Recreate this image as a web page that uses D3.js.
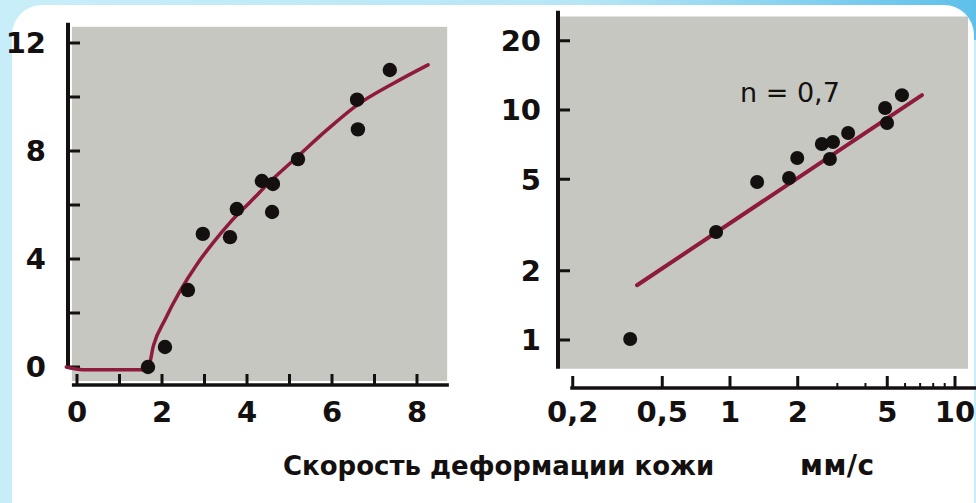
<!DOCTYPE html>
<html><head><meta charset="utf-8">
<script src="https://cdn.jsdelivr.net/npm/d3@7/dist/d3.min.js"></script>
<style>html,body{margin:0;padding:0;background:#c6edf8;overflow:hidden}</style>
</head><body>
<svg id="c" width="976" height="503"></svg>
<script>
// ---- Left panel (linear) data ----
const leftXTicks = [0,1,2,3,4,5,6,7,8];
const leftXLabels = [0,2,4,6,8];
const leftYTicks = [0,2,4,6,8,10,12];
const leftYLabels = [0,4,8,12];
const leftPtsX = [1.67,2.07,2.61,2.96,3.60,3.76,4.35,4.61,4.59,5.20,6.59,6.61,7.36];
const leftPtsY = [0.0,0.74,2.85,4.93,4.81,5.85,6.89,6.78,5.74,7.70,9.90,8.80,11.0];
const leftCurveX = [-0.25,0.14,1.62,1.67,1.80,2.07,2.42,2.82,3.20,3.60,4.07,4.60,5.18,5.88,6.59,7.44,8.26];
const leftCurveY = [0.0,-0.1,-0.1,-0.07,0.8,1.75,2.8,3.8,4.6,5.35,6.1,6.95,7.78,8.78,9.7,10.5,11.19];

// ---- Right panel (log-log) data ----
const rightXTicks = [0.2,0.5,1,2,5,10];
const rightXLabels = ["0,2","0,5","1","2","5","10"];
const rightXMinor = [3,4,6,7,8,9];
const rightYTicks = [1,2,5,10,20];
const rightYLabels = ["1","2","5","10","20"];
const rightPtsX = [0.36,0.867,1.32,1.83,1.99,2.56,2.87,2.78,3.35,4.89,4.99,5.81];
const rightPtsY = [1.01,2.95,4.86,5.06,6.18,7.11,7.26,6.12,7.94,10.2,8.78,11.6];
const rightLineX = [0.386,7.13];
const rightLineY = [1.73,11.6];
const annotation = "n = 0,7";
const axisTitle = "Скорость деформации кожи";
const axisUnit = "мм/с";

const svg = d3.select("#c");
const FONT = "'DejaVu Sans', 'Liberation Sans', Arial, sans-serif";
const INK = "#141010";
const RED = "#8e1a3c";
const GRAY = "#c6c7c1";

// background / white panel
const defs = svg.append("defs");
const g1 = defs.append("linearGradient").attr("id","bg").attr("x1","0").attr("x2","1").attr("y1","0").attr("y2","0");
g1.append("stop").attr("offset","0").attr("stop-color","#c8eef9");
g1.append("stop").attr("offset","0.6").attr("stop-color","#b6e6f6");
g1.append("stop").attr("offset","1").attr("stop-color","#5ec0ea");
svg.append("rect").attr("x",0).attr("y",0).attr("width",976).attr("height",503).attr("fill","#c6edf8");
svg.append("rect").attr("x",0).attr("y",0).attr("width",976).attr("height",40).attr("fill","url(#bg)");
svg.append("rect").attr("x",12).attr("y",5).attr("width",962).attr("height",530).attr("rx",30).attr("fill","#ffffff");

// ---- LEFT ----
const xL = d3.scaleLinear().domain([0,8]).range([77,417]);
const yL = d3.scaleLinear().domain([0,12]).range([367,43]);
const L = svg.append("g");
L.append("rect").attr("x",xL(-0.12)).attr("y",yL(12.6)).attr("width",xL(8.71)-xL(-0.12)).attr("height",yL(-0.52)-yL(12.6)).attr("fill",GRAY);
// y axis
L.append("line").attr("x1",68).attr("x2",68).attr("y1",yL(12.75)).attr("y2",yL(-0.05)).attr("stroke",INK).attr("stroke-width",4);
L.selectAll(".yt").data(leftYTicks).join("line").attr("x1",68).attr("x2",80).attr("y1",d=>yL(d)).attr("y2",d=>yL(d)).attr("stroke",INK).attr("stroke-width",3);
L.selectAll(".yl").data(leftYLabels).join("text").attr("x",46).attr("y",d=>yL(d)).attr("dy","0.36em").attr("text-anchor","end")
  .attr("font-family",FONT).attr("font-weight","bold").attr("font-size",29).attr("fill",INK).text(d=>d);
// x axis
const axYL = 385;
L.append("line").attr("x1",xL(-0.12)).attr("x2",xL(8.75)).attr("y1",axYL).attr("y2",axYL).attr("stroke",INK).attr("stroke-width",3.5);
L.selectAll(".xt").data(leftXTicks).join("line").attr("x1",d=>xL(d)).attr("x2",d=>xL(d)).attr("y1",axYL).attr("y2",axYL-11).attr("stroke",INK).attr("stroke-width",3);
L.selectAll(".xl").data(leftXLabels).join("text").attr("x",d=>xL(d)).attr("y",412).attr("dy","0.36em").attr("text-anchor","middle")
  .attr("font-family",FONT).attr("font-weight","bold").attr("font-size",29).attr("fill",INK).text(d=>d);
// curve
const leftCurve = leftCurveX.map((x,i)=>[x,leftCurveY[i]]);
L.append("path").datum(leftCurve).attr("fill","none").attr("stroke",RED).attr("stroke-width",3.5).attr("stroke-linecap","round")
  .attr("d", d3.line().x(d=>xL(d[0])).y(d=>yL(d[1])).curve(d3.curveMonotoneX));
L.selectAll(".pt").data(leftPtsX.map((x,i)=>[x,leftPtsY[i]])).join("circle")
  .attr("cx",d=>xL(d[0])).attr("cy",d=>yL(d[1])).attr("r",7.2).attr("fill",INK);

// ---- RIGHT ----
const xR = d3.scaleLog().domain([1,10]).range([730,955]);
const yR = d3.scaleLog().domain([1,10]).range([340,110]);
const R = svg.append("g");
R.append("rect").attr("x",560).attr("y",yR(25.5)).attr("width",968-560).attr("height",yR(0.75)-yR(25.5)).attr("fill",GRAY);
R.append("line").attr("x1",558).attr("x2",558).attr("y1",yR(27)).attr("y2",yR(0.75)).attr("stroke",INK).attr("stroke-width",4);
R.selectAll(".yt").data(rightYTicks).join("line").attr("x1",558).attr("x2",570).attr("y1",d=>yR(d)).attr("y2",d=>yR(d)).attr("stroke",INK).attr("stroke-width",3);
R.selectAll(".yl").data(rightYTicks).join("text").attr("x",541).attr("y",d=>yR(d)).attr("dy","0.36em").attr("text-anchor","end")
  .attr("font-family",FONT).attr("font-weight","bold").attr("font-size",29).attr("fill",INK).text((d,i)=>rightYLabels[i]);
const axYR = 388;
R.append("line").attr("x1",xR(0.195)).attr("x2",976).attr("y1",axYR).attr("y2",axYR).attr("stroke",INK).attr("stroke-width",3.5);
R.selectAll(".xt").data(rightXTicks).join("line").attr("x1",d=>xR(d)).attr("x2",d=>xR(d)).attr("y1",axYR).attr("y2",axYR-12).attr("stroke",INK).attr("stroke-width",3);
R.selectAll(".xm").data(rightXMinor).join("line").attr("x1",d=>xR(d)).attr("x2",d=>xR(d)).attr("y1",axYR).attr("y2",axYR-5).attr("stroke",INK).attr("stroke-width",2);
R.selectAll(".xl").data(rightXTicks).join("text").attr("x",d=>xR(d)).attr("y",412).attr("dy","0.36em").attr("text-anchor","middle")
  .attr("font-family",FONT).attr("font-weight","bold").attr("font-size",29).attr("fill",INK).text((d,i)=>rightXLabels[i]);
R.append("path").datum(rightLineX.map((x,i)=>[x,rightLineY[i]])).attr("fill","none").attr("stroke",RED).attr("stroke-width",4).attr("stroke-linecap","round")
  .attr("d", d3.line().x(d=>xR(d[0])).y(d=>yR(d[1])));
R.selectAll(".pt").data(rightPtsX.map((x,i)=>[x,rightPtsY[i]])).join("circle")
  .attr("cx",d=>xR(d[0])).attr("cy",d=>yR(d[1])).attr("r",7).attr("fill",INK);
R.append("text").attr("x",xR(1.108)).attr("y",yR(11.9)).attr("dy","0.36em")
  .attr("font-family",FONT).attr("font-size",27).attr("fill",INK).text(annotation);

// axis title
svg.append("text").attr("x",283).attr("y",475).attr("font-family",FONT).attr("font-weight","bold").attr("font-size",26).attr("fill",INK).text(axisTitle);
svg.append("text").attr("x",800).attr("y",475).attr("font-family",FONT).attr("font-weight","bold").attr("font-size",28).attr("letter-spacing",0.5).attr("fill",INK).text(axisUnit);
</script>
</body></html>
